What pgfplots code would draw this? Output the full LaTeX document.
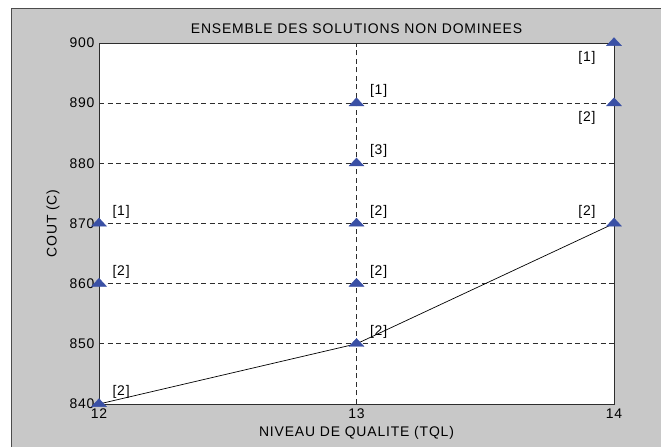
\documentclass[border=0pt]{standalone}
\usepackage{pgfplots}
\pgfplotsset{compat=1.18}
\usepackage{fontspec}
\setmainfont{Liberation Sans}[LetterSpace=6]
\definecolor{fond}{RGB}{200,200,200}
\definecolor{bleu}{RGB}{58,80,165}
\definecolor{trait}{RGB}{45,45,45}

\pgfplotstableread{
x y lab
12 840 2
12 860 2
12 870 1
13 850 2
13 860 2
13 870 2
13 880 3
13 890 1
}\hautdroite
\pgfplotstableread{
x y lab
14 870 2
}\hautgauche
\pgfplotstableread{
x y lab
14 890 2
14 900 1
}\basgauche

\begin{document}
\begin{tikzpicture}[x=1bp,y=1bp]
\fill[white] (0,0) rectangle (661,447);
\fill[fond] (11,0) rectangle (661,439);
\draw[line width=1.3bp, black!70] (11.6,0) -- (11.6,438.4) -- (661,438.4);
\begin{axis}[at={(99bp,43bp)}, anchor=south west, scale only axis,
  width=515bp, height=361bp,
  xmin=12, xmax=14, ymin=840, ymax=900,
  xtick={12,13,14}, ytick={840,850,...,900},
  grid=major, grid style={trait, line width=0.7bp, dash pattern=on 5bp off 3.5bp},
  major tick length=0pt,
  axis line style={trait, line width=0.9bp},
  axis background/.style={fill=white},
  clip=false,
  font=\fontsize{14}{16}\selectfont,
  /pgf/number format/assume math mode=true,
  /pgf/number format/set thousands separator={},
  yticklabel style={xshift=-1bp},
  xticklabel style={yshift=-1bp},
  title={ENSEMBLE DES SOLUTIONS NON DOMINEES},
  title style={at={(0.5,1)}, anchor=south, yshift=0bp},
  xlabel={NIVEAU DE QUALITE (TQL)},
  xlabel style={at={(0.5,0)}, anchor=north, yshift=-19bp},
  ylabel={COUT (C)},
  ylabel style={at={(0,0.5)}, anchor=center, yshift=46bp},
  nodes near coords={[\pgfplotspointmeta]},
  point meta=explicit symbolic,
]
\addplot[black, line width=0.7bp, no marks, nodes near coords={}] coordinates {(12,840) (13,850) (14,870)};
\addplot[only marks, mark=triangle*, mark size=8.6bp, mark options={yscale=0.62, bleu, draw=bleu},
  every node near coord/.style={anchor=south west, xshift=10bp, yshift=2bp, text=black}]
  table[meta=lab] {\hautdroite};
\addplot[only marks, mark=triangle*, mark size=8.6bp, mark options={yscale=0.62, bleu, draw=bleu},
  every node near coord/.style={anchor=south east, xshift=-15bp, yshift=2bp, text=black}]
  table[meta=lab] {\hautgauche};
\addplot[only marks, mark=triangle*, mark size=8.6bp, mark options={yscale=0.62, bleu, draw=bleu},
  every node near coord/.style={anchor=north east, xshift=-15bp, yshift=-5bp, text=black}]
  table[meta=lab] {\basgauche};
\end{axis}
\pgfresetboundingbox
\useasboundingbox (0,0) rectangle (661,447);
\end{tikzpicture}
\end{document}
